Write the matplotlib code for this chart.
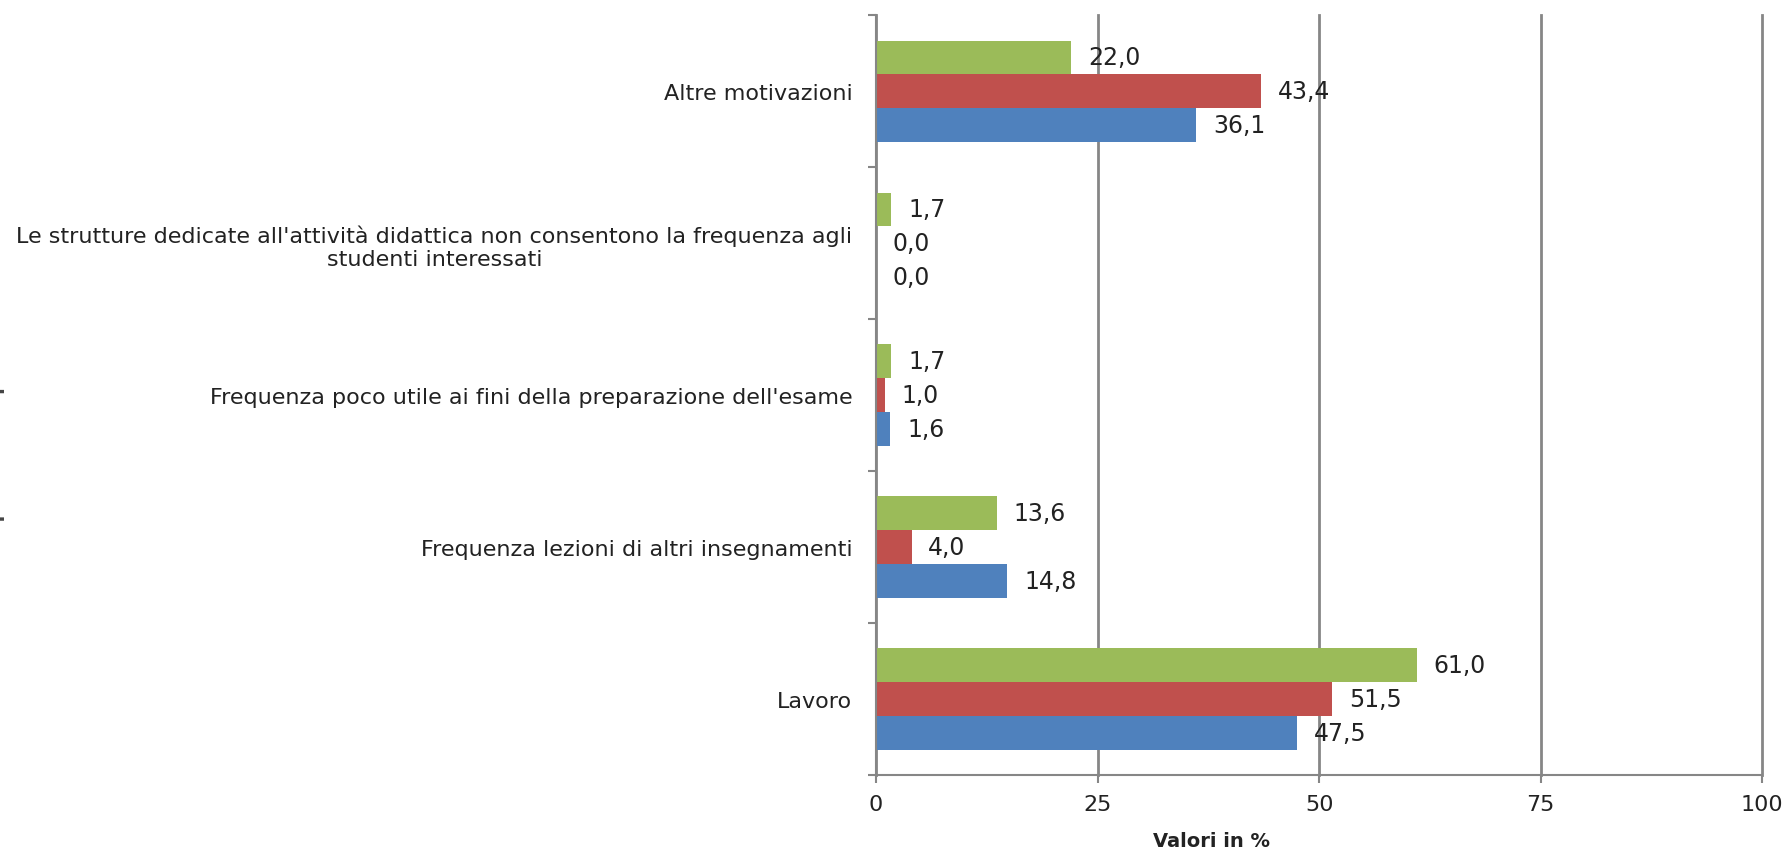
import matplotlib
matplotlib.use("Agg")
import matplotlib.pyplot as plt
import numpy as np

# categories from bottom to top
categories = [
    "Lavoro",
    "Frequenza lezioni di altri insegnamenti",
    "Frequenza poco utile ai fini della preparazione dell'esame",
    "Le strutture dedicate all'attività didattica non consentono la frequenza agli\nstudenti interessati",
    "Altre motivazioni",
]
serie_blu = [47.5, 14.8, 1.6, 0.0, 36.1]
serie_rossa = [51.5, 4.0, 1.0, 0.0, 43.4]
serie_verde = [61.0, 13.6, 1.7, 1.7, 22.0]
x_ticks = [0, 25, 50, 75, 100]

plt.rcParams['font.family'] = ['DejaVu Sans']

fig = plt.figure(figsize=(17.89, 8.53), dpi=100)
ax = fig.add_axes([0.4897, 0.0903, 0.4953, 0.8907])

y = np.arange(len(categories))
h = 0.222
ax.barh(y - h, serie_blu, height=h, color='#4F81BD')
ax.barh(y, serie_rossa, height=h, color='#C0504D')
ax.barh(y + h, serie_verde, height=h, color='#9BBB59')

for off, vals in [(-h, serie_blu), (0, serie_rossa), (h, serie_verde)]:
    for yi, v in zip(y, vals):
        ax.text(v + 1.9, yi + off, f"{v:.1f}".replace('.', ','),
                va='center', ha='left', fontsize=17, color='#222222')

ax.set_xlim(0, 100)
ax.set_ylim(-0.5, len(categories) - 0.5)
ax.set_xticks(x_ticks)
ax.set_xticklabels([str(t) for t in x_ticks], fontsize=16, color='#222222')
ax.set_yticks(y)
ax.set_yticklabels(categories, fontsize=16, color='#222222',
                   multialignment='center')
ax.tick_params(axis='y', length=0, pad=17)
ax.set_yticks(np.arange(-0.5, len(categories), 1), minor=True)
ax.tick_params(axis='y', which='minor', length=6, color='#868686', width=1.5)
ax.tick_params(axis='x', length=6, color='#868686', width=1.5, pad=8)

ax.grid(axis='x', color='#868686', linewidth=2)
for gl in ax.get_xgridlines():
    gl.set_clip_on(False)
ax.set_axisbelow(True)
for s in ['top', 'right']:
    ax.spines[s].set_visible(False)
for s in ['left', 'bottom']:
    ax.spines[s].set_color('#868686')
    ax.spines[s].set_linewidth(1.5)

fig.text(0.677, 0.013, "Valori in %", ha='center', va='center',
         fontsize=14, fontweight='bold', color='#222222')
fig.text(-0.0025, 0.49, "Opzioni di risposta", rotation=90, ha='center',
         va='center', fontsize=14, fontweight='bold', color='#444444')

fig.savefig("out.png", dpi=100)
